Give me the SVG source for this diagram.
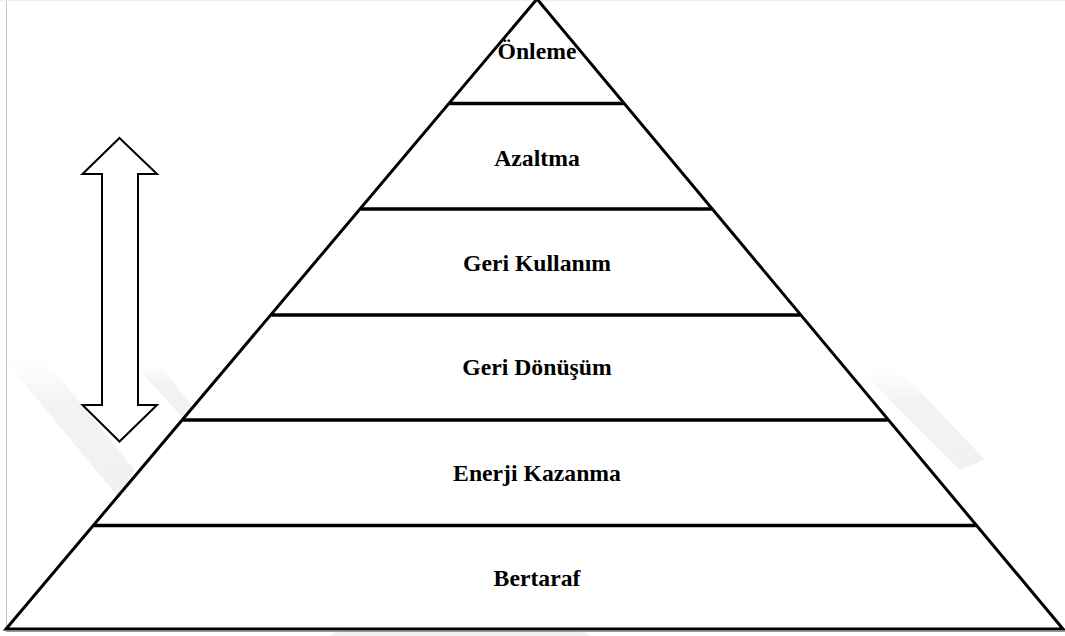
<svg xmlns="http://www.w3.org/2000/svg" width="1065" height="636" viewBox="0 0 1065 636">
  <defs>
    <linearGradient id="fade" x1="0" y1="0" x2="0" y2="1">
      <stop offset="0" stop-color="#f3f3f3" stop-opacity="0"/>
      <stop offset="0.3" stop-color="#f3f3f3" stop-opacity="1"/>
      <stop offset="1" stop-color="#f1f1f1" stop-opacity="1"/>
    </linearGradient>
  </defs>
  <style>
    .frame { stroke-width: 1; fill: none; }
    .mark { fill: url(#fade); }
    .level { fill: #ffffff; stroke: #000; stroke-width: 3; stroke-linejoin: miter; }
    .divider { stroke: #000; stroke-width: 3.5; }
    .label { font-family: "Liberation Serif", "Times New Roman", serif; font-weight: bold; font-size: 23.7px; fill: #000; text-anchor: middle; }
    .arrow { fill: #ffffff; stroke: #000; stroke-width: 2; stroke-linejoin: miter; }
  </style>

  <rect x="0" y="0" width="1065" height="636" fill="#ffffff"/>

  <!-- faint background watermark bands -->
  <g id="watermark">
    <polygon class="mark" points="5,360 45,360 135,470 118,497"/>
    <polygon class="mark" points="135,365 160,365 195,410 187,423"/>
    <polygon class="mark" points="860,370 900,370 985,460 960,470"/>
    <polygon class="mark" points="330,636 360,615 560,615 590,636"/>
  </g>

  <!-- page frame -->
  <g id="frame">
    <line class="frame" x1="6.5" y1="0" x2="6.5" y2="630" stroke="#c8c8c8" stroke-width="2"/>
    <line class="frame" x1="0" y1="0.5" x2="1065" y2="0.5" stroke="#eeeeee"/>
    <line class="frame" x1="6" y1="629.5" x2="1065" y2="629.5" stroke="#7a7a7a"/>
    <line class="frame" x1="6" y1="631.5" x2="1065" y2="631.5" stroke="#9a9a9a"/>
  </g>

  <!-- pyramid outline -->
  <g id="pyramid">
    <polygon class="level" points="537,-1 6,629 1063,629"/>
  </g>

  <!-- level dividers -->
  <g id="connectors">
    <line class="divider" x1="449.8" y1="103.5" x2="623.4" y2="103.5"/>
    <line class="divider" x1="360.8" y1="209" x2="711.5" y2="209"/>
    <line class="divider" x1="271.5" y1="315" x2="800" y2="315"/>
    <line class="divider" x1="183" y1="420" x2="887.7" y2="420"/>
    <line class="divider" x1="94.1" y1="525.5" x2="975.8" y2="525.5"/>
  </g>

  <g id="onleme"><text class="label" x="537" y="59">Önleme</text></g>
  <g id="azaltma"><text class="label" x="537" y="165.5">Azaltma</text></g>
  <g id="geri-kullanim"><text class="label" x="537" y="270.5">Geri Kullanım</text></g>
  <g id="geri-donusum"><text class="label" x="537" y="375">Geri Dönüşüm</text></g>
  <g id="enerji-kazanma"><text class="label" x="537" y="481">Enerji Kazanma</text></g>
  <g id="bertaraf"><text class="label" x="537" y="586">Bertaraf</text></g>

  <!-- double-headed arrow -->
  <g id="arrow">
    <polygon class="arrow" points="119.5,138 157,174 138,174 138,405 157,405 119.5,441.5 82.5,405 102,405 102,174 82.5,174"/>
  </g>
</svg>
